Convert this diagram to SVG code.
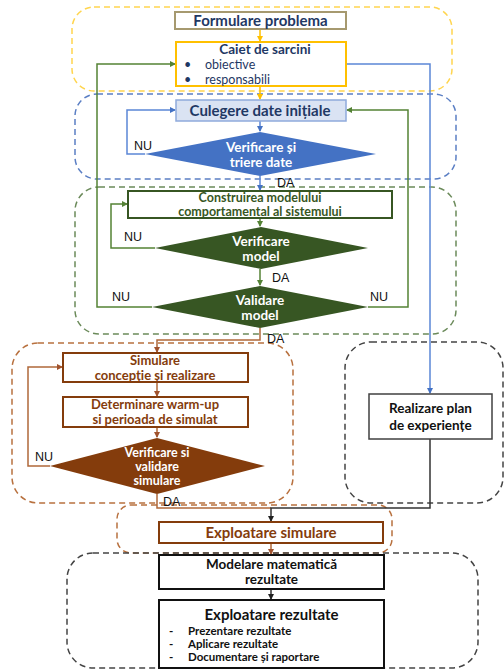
<svg xmlns="http://www.w3.org/2000/svg" width="504" height="671" viewBox="0 0 504 671">
<defs>
<marker id="aY" markerWidth="6" markerHeight="6" refX="5" refY="3" orient="auto" markerUnits="userSpaceOnUse"><path d="M0,0 L6,3 L0,6 z" fill="#ffc000"/></marker>
<marker id="aB" markerWidth="6" markerHeight="6" refX="5" refY="3" orient="auto" markerUnits="userSpaceOnUse"><path d="M0,0 L6,3 L0,6 z" fill="#4472c4"/></marker>
<marker id="aG" markerWidth="6" markerHeight="6" refX="5" refY="3" orient="auto" markerUnits="userSpaceOnUse"><path d="M0,0 L6,3 L0,6 z" fill="#548235"/></marker>
<marker id="aR" markerWidth="6" markerHeight="6" refX="5" refY="3" orient="auto" markerUnits="userSpaceOnUse"><path d="M0,0 L6,3 L0,6 z" fill="#a0522d"/></marker>
<marker id="aK" markerWidth="6" markerHeight="6" refX="5" refY="3" orient="auto" markerUnits="userSpaceOnUse"><path d="M0,0 L6,3 L0,6 z" fill="#222"/></marker>
</defs>
<style>
text{font-family:Lato,"Liberation Sans",sans-serif;text-anchor:middle;font-weight:bold;font-size:15px}
.m{font-size:13.5px}
.n{font-size:13px}
.s{font-size:12.5px}
.cont{fill:none;stroke-width:1.5;stroke-dasharray:6 4}
.navy{fill:#1f3864}
.wh{fill:#ffffff}
.gr{fill:#375623}
.br{fill:#843c0c}
.bk{fill:#111}
.lbl{font-family:"Liberation Sans",Arial,sans-serif;font-weight:normal;font-size:12.5px;fill:#111;text-anchor:start}
.li{text-anchor:start;font-size:11.5px}
.bu{text-anchor:start;font-weight:normal;font-size:12.5px}
.c{fill:none;stroke-width:1.5}
.cy{stroke:#ffc000}
.cb{stroke:#5b86d6}
.cg{stroke:#548235}
.cr{stroke:#b0683a}
.ck{stroke:#333}
</style>
<rect width="504" height="671" fill="#ffffff"/>
<g id="containers">
<rect x="72" y="7" width="380" height="84" rx="22" class="cont" stroke="#ffd54f"/>
<rect x="75" y="94" width="381" height="85" rx="22" class="cont" stroke="#5b7fc4"/>
<rect x="75" y="187" width="381" height="147" rx="24" class="cont" stroke="#6b8a5a"/>
<rect x="12" y="343" width="281" height="160" rx="26" class="cont" stroke="#b8713f"/>
<rect x="345" y="342" width="158" height="161" rx="26" class="cont" stroke="#444"/>
<rect x="117" y="505" width="275" height="48" rx="14" class="cont" stroke="#b8713f"/>
<rect x="67" y="553" width="411" height="115" rx="26" class="cont" stroke="#444"/>
</g>
<g id="connectors">
<path class="c cy" d="M260,29 V41" marker-end="url(#aY)"/>
<path class="c cy" d="M260,86 V99" marker-end="url(#aY)"/>
<path class="c cb" d="M260,121 V131" marker-end="url(#aB)"/>
<path class="c cb" d="M145,154 H127 V110 H175" marker-end="url(#aB)"/>
<path class="c cb" d="M260,176 V190" marker-end="url(#aB)"/>
<path class="c cg" d="M260,218 V226" marker-end="url(#aG)"/>
<path class="c cg" d="M155,248 H111 V204 H127" marker-end="url(#aG)"/>
<path class="c cg" d="M260,269 V285" marker-end="url(#aG)"/>
<path class="c cg" d="M152,307 H97 V64 H175" marker-end="url(#aG)"/>
<path class="c cg" d="M368,307 H408 V110 H347" marker-end="url(#aG)"/>
<path class="c cb" d="M346,64 H430 V393" marker-end="url(#aB)"/>
<path class="c cr" d="M260,328 V340 H157 V352" marker-end="url(#aR)"/>
<path class="c cr" d="M157,382 V396" marker-end="url(#aR)"/>
<path class="c cr" d="M157,427 V437" marker-end="url(#aR)"/>
<path class="c cr" d="M50,466 H28 V367 H62" marker-end="url(#aR)"/>
<path class="c cr" d="M157,494 V508 H271"/>
<path class="c ck" d="M430,439 V508 H271 V521" marker-end="url(#aK)"/>
<path class="c cr" d="M271,543 V554" marker-end="url(#aR)"/>
<path class="c ck" d="M271,589 V599" marker-end="url(#aK)"/>
</g>
<g id="labels">
<text class="lbl" x="134" y="150">NU</text>
<text class="lbl" x="277" y="187">DA</text>
<text class="lbl" x="124" y="241">NU</text>
<text class="lbl" x="272" y="282">DA</text>
<text class="lbl" x="112" y="301">NU</text>
<text class="lbl" x="370" y="301">NU</text>
<text class="lbl" x="267" y="343">DA</text>
<text class="lbl" x="35" y="461">NU</text>
<text class="lbl" x="163" y="506">DA</text>
</g>
<g id="formulare">
<rect x="175" y="12" width="171" height="17" fill="#fff" stroke="#a6996f" stroke-width="2"/>
<text class="navy" x="260.5" y="26">Formulare problema</text>
</g>
<g id="caiet">
<rect x="176" y="42" width="170" height="44" fill="#fff" stroke="#ffc000" stroke-width="2"/>
<text class="navy m" x="265" y="54">Caiet de sarcini</text>
<text class="navy bu" x="184" y="68.5">•</text>
<text class="navy bu" x="205" y="68.5">obiective</text>
<text class="navy bu" x="184" y="83.5">•</text>
<text class="navy bu" x="205" y="83.5">responsabili</text>
</g>
<g id="culegere">
<rect x="176" y="100" width="170" height="21" fill="#dae3f3" stroke="#8faadc" stroke-width="1.5"/>
<text class="navy" x="260" y="116">Culegere date inițiale</text>
</g>
<g id="verif-date">
<polygon points="260,132 376,154 260,176 145,154" fill="#4472c4"/>
<text class="wh m" x="261" y="152">Verificare și</text>
<text class="wh m" x="261" y="167">triere date</text>
</g>
<g id="construirea">
<rect x="128" y="191" width="264" height="27" fill="#fff" stroke="#375623" stroke-width="2"/>
<text class="gr s" x="260" y="202">Construirea modelului</text>
<text class="gr s" x="260" y="216">comportamental al sistemului</text>
</g>
<g id="verif-model">
<polygon points="261,227 368,248 261,269 155,248" fill="#375623"/>
<text class="wh m" x="261" y="246">Verificare</text>
<text class="wh m" x="261" y="261">model</text>
</g>
<g id="validare-model">
<polygon points="260,286 368,307 260,328 152,307" fill="#375623"/>
<text class="wh m" x="260" y="305">Validare</text>
<text class="wh m" x="260" y="320">model</text>
</g>
<g id="simulare">
<rect x="63" y="353" width="185" height="29" fill="#fff" stroke="#843c0c" stroke-width="2"/>
<text class="br n" x="155" y="364.5">Simulare</text>
<text class="br n" x="155" y="379.5">concepție și realizare</text>
</g>
<g id="determinare">
<rect x="63" y="397" width="185" height="30" fill="#fff" stroke="#843c0c" stroke-width="2"/>
<text class="br n" x="155" y="409">Determinare warm-up</text>
<text class="br n" x="155" y="424">si perioada de simulat</text>
</g>
<g id="verif-simulare">
<polygon points="157,438 265,466 157,494 50,466" fill="#843c0c"/>
<text class="wh s" x="157" y="457">Verificare si</text>
<text class="wh s" x="157" y="471">validare</text>
<text class="wh s" x="157" y="485">simulare</text>
</g>
<g id="realizare-plan">
<rect x="369" y="394" width="123" height="45" fill="#fff" stroke="#404040" stroke-width="1.5"/>
<text class="bk m" x="430.5" y="413">Realizare plan</text>
<text class="bk m" x="430.5" y="430">de experiențe</text>
</g>
<g id="exploatare-simulare">
<rect x="159" y="522" width="224" height="21" fill="#fff" stroke="#843c0c" stroke-width="2"/>
<text class="br" x="271" y="538">Exploatare simulare</text>
</g>
<g id="modelare">
<rect x="159" y="555" width="225" height="34" fill="#fff" stroke="#111" stroke-width="2"/>
<text class="bk m" x="271.5" y="569">Modelare matematică</text>
<text class="bk m" x="271.5" y="584">rezultate</text>
</g>
<g id="exploatare-rezultate">
<rect x="159" y="600" width="225" height="68" fill="#fff" stroke="#111" stroke-width="2"/>
<text class="bk" x="271.5" y="620">Exploatare rezultate</text>
<text class="bk li" x="169" y="635">-</text>
<text class="bk li" x="188" y="635">Prezentare rezultate</text>
<text class="bk li" x="169" y="648">-</text>
<text class="bk li" x="188" y="648">Aplicare rezultate</text>
<text class="bk li" x="169" y="661">-</text>
<text class="bk li" x="188" y="661">Documentare și raportare</text>
</g>
</svg>
